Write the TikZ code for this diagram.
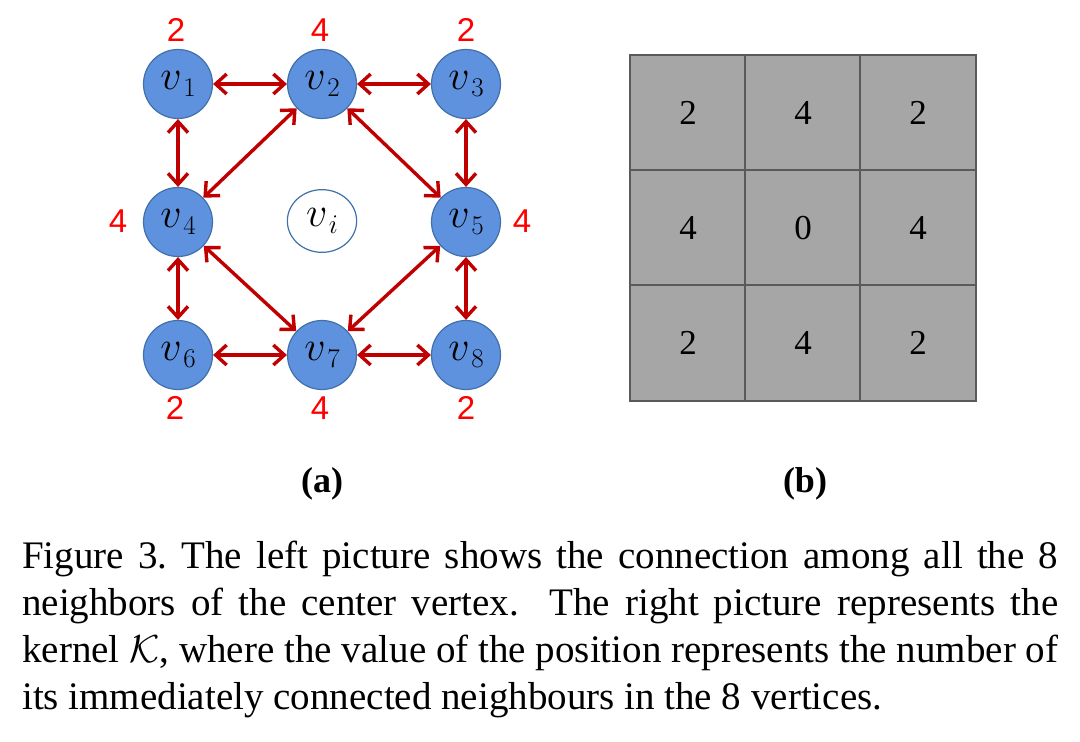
\RequirePackage{fix-cm}
\documentclass[tikz,border=0pt]{standalone}
\usepackage{fontspec}
\setmainfont{Liberation Serif}
\newfontfamily\labelfont{Liberation Sans}
\usetikzlibrary{arrows.meta}
\definecolor{nodeblue}{RGB}{94,145,222}
\definecolor{nodeedge}{RGB}{65,113,170}
\definecolor{edgered}{RGB}{192,0,0}
\definecolor{cellgray}{RGB}{166,166,166}
\definecolor{gridline}{RGB}{90,90,90}
\newcommand{\vx}[1]{$v$\kern1.5bp\raisebox{-7bp}{\fontsize{27bp}{29bp}\selectfont$#1$}}
\begin{document}
\begin{tikzpicture}[x=1bp,y=-1bp,
  vert/.style={circle,fill=nodeblue,draw=nodeedge,line width=1.2bp,minimum size=69bp,inner sep=0pt,font=\fontsize{42bp}{46bp}\selectfont},
  link/.style={draw=edgered,line width=3.4bp,{Straight Barb[length=11bp,width=20bp]}-{Straight Barb[length=11bp,width=20bp]}},
  deg/.style={text=red,inner sep=0pt,font=\labelfont\fontsize{33bp}{36bp}\selectfont},
  cell/.style={rectangle,draw=gridline,fill=cellgray,line width=2.2bp,minimum size=115.5bp,inner sep=0pt,font=\fontsize{35bp}{40bp}\selectfont},
  sublabel/.style={inner sep=0pt,font=\bfseries\fontsize{36bp}{40bp}\selectfont}
]
\useasboundingbox (0,0) rectangle (1080,742);
% vertices
\node[vert] (v1) at (178,84) {\vx{1}};
\node[vert] (v2) at (322,84) {\vx{2}};
\node[vert] (v3) at (466,84) {\vx{3}};
\node[vert] (v4) at (178,222) {\vx{4}};
\node[circle,fill=white,draw=nodeedge,line width=1.2bp,minimum size=66bp,inner sep=0pt,xscale=1.05,yscale=0.95] (vi) at (322,221) {};
\node[inner sep=0pt,font=\fontsize{42bp}{46bp}\selectfont] (vilabel) at (vi) {\vx{i}};
\node[vert] (v5) at (466,222) {\vx{5}};
\node[vert] (v6) at (178,355) {\vx{6}};
\node[vert] (v7) at (322,355) {\vx{7}};
\node[vert] (v8) at (466,355) {\vx{8}};
% connectors
\draw[link] (v1) -- (v2);
\draw[link] (v2) -- (v3);
\draw[link] (v6) -- (v7);
\draw[link] (v7) -- (v8);
\draw[link] (v1) -- (v4);
\draw[link] (v4) -- (v6);
\draw[link] (v3) -- (v5);
\draw[link] (v5) -- (v8);
\draw[link] (v2) -- (v4);
\draw[link] (v2) -- (v5);
\draw[link] (v4) -- (v7);
\draw[link] (v5) -- (v7);
% degree labels
\node[deg] (d1) at (176,30) {2};
\node[deg] (d2) at (320,30) {4};
\node[deg] (d3) at (466,30) {2};
\node[deg] (d4) at (118,221) {4};
\node[deg] (d5) at (522,221) {4};
\node[deg] (d6) at (175,408) {2};
\node[deg] (d7) at (320,408) {4};
\node[deg] (d8) at (466,408) {2};
% kernel grid
\node[cell] (k11) at (688,113) {2};
\node[cell] (k12) at (803,113) {4};
\node[cell] (k13) at (918,113) {2};
\node[cell] (k21) at (688,228) {4};
\node[cell] (k22) at (803,228) {0};
\node[cell] (k23) at (918,228) {4};
\node[cell] (k31) at (688,343) {2};
\node[cell] (k32) at (803,343) {4};
\node[cell] (k33) at (918,343) {2};
% sub labels
\node[sublabel] (a) at (322,484) {(a)};
\node[sublabel] (b) at (805,484) {(b)};
% caption
\node[anchor=north west,inner sep=0pt,text width=1036bp,align=justify,font=\fontsize{39bp}{47bp}\selectfont] (cap) at (22,541)
{Figure 3.\ The left picture shows the connection among all the 8\linebreak
neighbors of the center vertex.\ \ The right picture represents the\linebreak
kernel $\mathcal{K}$, where the value of the position represents the number of\linebreak
its immediately connected neighbours in the 8 vertices.};
\end{tikzpicture}
\end{document}
